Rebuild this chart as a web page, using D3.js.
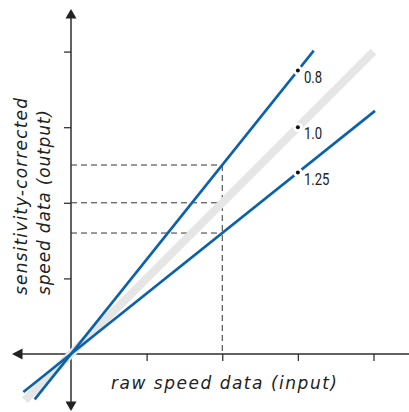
<!DOCTYPE html>
<html>
<head>
<meta charset="utf-8">
<script src="https://cdn.jsdelivr.net/npm/d3@7"></script>
<style>
  body { margin: 0; background: #fff; }
  svg { display: block; }
  .tick line { stroke: #333; stroke-width: 1.3; }
  .lbl { font-family: "DejaVu Sans", sans-serif; font-style: italic; font-size: 17px; fill: #222; }
  .sens { font-family: "Roboto", "Liberation Sans", sans-serif; font-size: 16px; fill: #222; }
</style>
</head>
<body>
<svg width="409" height="412"></svg>
<script>
// sensitivity factors and the slope they give (output = input / sensitivity)
const sensLabels = ['0.8', '1.0', '1.25'];
const slopes = [1.25, 1.0, 0.8];
// x extent of each drawn line (in input units)
const lineStart = [-0.48, -0.61, -0.63];
const lineEnd = [3.21, 4.0, 4.02];
const markX = 3;           // where the dots/labels sit
const readX = 2;           // dashed read-off position
const tickValues = [1, 2, 3, 4];

const svg = d3.select('svg');

const x = d3.scaleLinear().domain([0, 4]).range([71, 373.5]);
const y = d3.scaleLinear().domain([0, 4]).range([354, 51.6]);

const axisColor = '#2e2e2e';
const blue = '#0b62a9';

// ticks
const xAxis = d3.axisBottom(x).tickValues(tickValues).tickSize(7).tickFormat('');
const yAxis = d3.axisLeft(y).tickValues(tickValues).tickSize(7).tickFormat('');

svg.append('g')
  .attr('transform', `translate(0,${y(0)})`)
  .call(xAxis)
  .call(g => g.select('.domain').remove());

svg.append('g')
  .attr('transform', `translate(${x(0)},0)`)
  .call(yAxis)
  .call(g => g.select('.domain').remove());

// axis lines
svg.append('line')
  .attr('x1', 20).attr('x2', 409)
  .attr('y1', y(0)).attr('y2', y(0))
  .attr('stroke', axisColor).attr('stroke-width', 1.5);
svg.append('line')
  .attr('x1', x(0)).attr('x2', x(0))
  .attr('y1', 14).attr('y2', 404)
  .attr('stroke', axisColor).attr('stroke-width', 1.5);

// arrow heads
const ox = x(0), oy = y(0);
svg.append('path')
  .attr('d', `M${ox},9 L${ox - 5.5},18.5 L${ox + 5.5},18.5 Z`)
  .attr('fill', '#222');
svg.append('path')
  .attr('d', `M${ox},411 L${ox - 5.5},401.5 L${ox + 5.5},401.5 Z`)
  .attr('fill', '#222');
svg.append('path')
  .attr('d', `M12,${oy} L22.5,${oy - 5.5} L22.5,${oy + 5.5} Z`)
  .attr('fill', '#222');

// dashed read-off lines
const dashed = svg.append('g')
  .attr('stroke', '#333')
  .attr('stroke-width', 1)
  .attr('stroke-dasharray', '6,4')
  .attr('fill', 'none');

slopes.forEach(s => {
  dashed.append('line')
    .attr('x1', x(0)).attr('x2', x(readX))
    .attr('y1', y(s * readX)).attr('y2', y(s * readX));
});
dashed.append('line')
  .attr('x1', x(readX)).attr('x2', x(readX))
  .attr('y1', y(d3.max(slopes) * readX)).attr('y2', y(0));

// the three lines: gray reference first, blue ones on top
const order = [1, 0, 2];
order.forEach(i => {
  const s = slopes[i];
  svg.append('line')
    .attr('x1', x(lineStart[i])).attr('y1', y(s * lineStart[i]))
    .attr('x2', x(lineEnd[i])).attr('y2', y(s * lineEnd[i]))
    .attr('stroke', i === 1 ? '#e6e6e6' : blue)
    .attr('stroke-width', i === 1 ? 8 : 2.6);
});

// dots with white halo + labels (narrowed to mimic a condensed face)
slopes.forEach((s, i) => {
  svg.append('circle')
    .attr('cx', x(markX)).attr('cy', y(s * markX))
    .attr('r', 4.8).attr('fill', '#fff');
  svg.append('circle')
    .attr('cx', x(markX)).attr('cy', y(s * markX))
    .attr('r', 2).attr('fill', '#111');
  svg.append('text')
    .attr('class', 'sens')
    .attr('transform', `translate(${x(markX) + 6},${y(s * markX) + 12}) scale(0.82,1)`)
    .text(sensLabels[i]);
});

// axis titles
svg.append('text')
  .attr('class', 'lbl')
  .attr('x', 111).attr('y', 389)
  .attr('textLength', 226).attr('lengthAdjust', 'spacing')
  .text('raw speed data (input)');

svg.append('text')
  .attr('class', 'lbl')
  .attr('transform', 'translate(27,295) rotate(-90)')
  .attr('textLength', 197).attr('lengthAdjust', 'spacing')
  .text('sensitivity-corrected');

svg.append('text')
  .attr('class', 'lbl')
  .attr('transform', 'translate(50,295) rotate(-90)')
  .attr('textLength', 185).attr('lengthAdjust', 'spacing')
  .text('speed data (output)');
</script>
</body>
</html>
